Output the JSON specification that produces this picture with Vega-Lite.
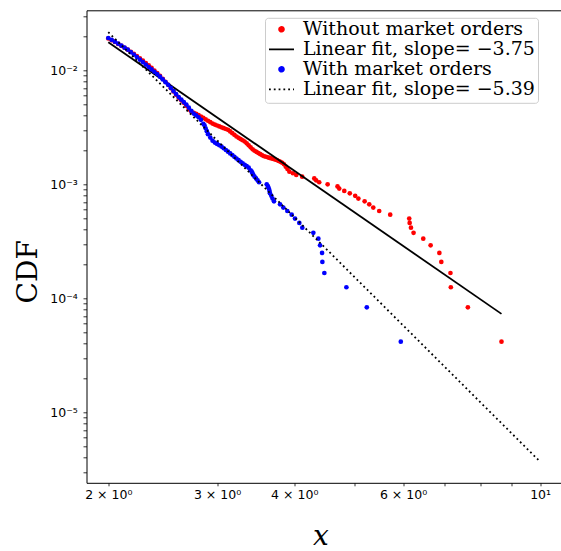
{
  "$schema": "https://vega.github.io/schema/vega-lite/v6.json",
  "width": 475,
  "height": 472.5,
  "autosize": {"type": "none"},
  "padding": {"left": 86.5, "top": 10.3, "right": 0, "bottom": 68.2},
  "background": "white",
  "config": {
    "view": {"stroke": "black", "strokeWidth": 1},
    "font": "DejaVu Sans",
    "legend": {"labelFont": "DejaVu Serif"}
  },
  "data": {
    "values": [
      {"s": "without", "x": 2.000, "y": 0.019010},
      {"s": "without", "x": 2.025, "y": 0.018354},
      {"s": "without", "x": 2.050, "y": 0.017727},
      {"s": "without", "x": 2.075, "y": 0.017042},
      {"s": "without", "x": 2.100, "y": 0.016388},
      {"s": "without", "x": 2.125, "y": 0.015770},
      {"s": "without", "x": 2.150, "y": 0.015177},
      {"s": "without", "x": 2.175, "y": 0.014546},
      {"s": "without", "x": 2.200, "y": 0.013931},
      {"s": "without", "x": 2.225, "y": 0.013347},
      {"s": "without", "x": 2.250, "y": 0.012751},
      {"s": "without", "x": 2.275, "y": 0.012155},
      {"s": "without", "x": 2.300, "y": 0.011592},
      {"s": "without", "x": 2.325, "y": 0.011052},
      {"s": "without", "x": 2.350, "y": 0.010491},
      {"s": "without", "x": 2.375, "y": 0.009964},
      {"s": "without", "x": 2.400, "y": 0.009467},
      {"s": "without", "x": 2.425, "y": 0.008940},
      {"s": "without", "x": 2.450, "y": 0.008411},
      {"s": "without", "x": 2.475, "y": 0.007916},
      {"s": "without", "x": 2.500, "y": 0.007455},
      {"s": "without", "x": 2.525, "y": 0.006973},
      {"s": "without", "x": 2.550, "y": 0.006524},
      {"s": "without", "x": 2.575, "y": 0.006106},
      {"s": "without", "x": 2.600, "y": 0.005732},
      {"s": "without", "x": 2.625, "y": 0.005451},
      {"s": "without", "x": 2.650, "y": 0.005185},
      {"s": "without", "x": 2.675, "y": 0.004881},
      {"s": "without", "x": 2.700, "y": 0.004548},
      {"s": "without", "x": 2.725, "y": 0.004342},
      {"s": "without", "x": 2.750, "y": 0.004240},
      {"s": "without", "x": 2.775, "y": 0.004141},
      {"s": "without", "x": 2.800, "y": 0.004042},
      {"s": "without", "x": 2.825, "y": 0.003929},
      {"s": "without", "x": 2.850, "y": 0.003818},
      {"s": "without", "x": 2.875, "y": 0.003712},
      {"s": "without", "x": 2.900, "y": 0.003609},
      {"s": "without", "x": 2.925, "y": 0.003508},
      {"s": "without", "x": 2.950, "y": 0.003411},
      {"s": "without", "x": 2.975, "y": 0.003339},
      {"s": "without", "x": 3.000, "y": 0.003278},
      {"s": "without", "x": 3.025, "y": 0.003220},
      {"s": "without", "x": 3.050, "y": 0.003163},
      {"s": "without", "x": 3.075, "y": 0.003108},
      {"s": "without", "x": 3.100, "y": 0.003054},
      {"s": "without", "x": 3.125, "y": 0.003002},
      {"s": "without", "x": 3.150, "y": 0.002907},
      {"s": "without", "x": 3.175, "y": 0.002810},
      {"s": "without", "x": 3.200, "y": 0.002716},
      {"s": "without", "x": 3.225, "y": 0.002626},
      {"s": "without", "x": 3.250, "y": 0.002558},
      {"s": "without", "x": 3.275, "y": 0.002495},
      {"s": "without", "x": 3.300, "y": 0.002434},
      {"s": "without", "x": 3.325, "y": 0.002375},
      {"s": "without", "x": 3.350, "y": 0.002287},
      {"s": "without", "x": 3.375, "y": 0.002197},
      {"s": "without", "x": 3.400, "y": 0.002111},
      {"s": "without", "x": 3.425, "y": 0.002028},
      {"s": "without", "x": 3.450, "y": 0.001970},
      {"s": "without", "x": 3.475, "y": 0.001924},
      {"s": "without", "x": 3.500, "y": 0.001880},
      {"s": "without", "x": 3.525, "y": 0.001837},
      {"s": "without", "x": 3.550, "y": 0.001795},
      {"s": "without", "x": 3.575, "y": 0.001763},
      {"s": "without", "x": 3.600, "y": 0.001744},
      {"s": "without", "x": 3.625, "y": 0.001724},
      {"s": "without", "x": 3.650, "y": 0.001705},
      {"s": "without", "x": 3.675, "y": 0.001686},
      {"s": "without", "x": 3.700, "y": 0.001667},
      {"s": "without", "x": 3.725, "y": 0.001649},
      {"s": "without", "x": 3.750, "y": 0.001630},
      {"s": "without", "x": 3.775, "y": 0.001601},
      {"s": "without", "x": 3.800, "y": 0.001573},
      {"s": "without", "x": 3.825, "y": 0.001545},
      {"s": "without", "x": 3.850, "y": 0.001500},
      {"s": "without", "x": 3.875, "y": 0.001428},
      {"s": "without", "x": 3.900, "y": 0.001361},
      {"s": "without", "x": 3.928, "y": 0.0012917},
      {"s": "without", "x": 3.98, "y": 0.00125},
      {"s": "without", "x": 4.03, "y": 0.0012083},
      {"s": "without", "x": 4.12, "y": 0.0011667},
      {"s": "without", "x": 4.31, "y": 0.001125},
      {"s": "without", "x": 4.34, "y": 0.0010833},
      {"s": "without", "x": 4.39, "y": 0.0010417},
      {"s": "without", "x": 4.53, "y": 0.001},
      {"s": "without", "x": 4.70, "y": 0.00095833},
      {"s": "without", "x": 4.73, "y": 0.00091667},
      {"s": "without", "x": 4.82, "y": 0.000875},
      {"s": "without", "x": 4.92, "y": 0.00083333},
      {"s": "without", "x": 5.02, "y": 0.00079167},
      {"s": "without", "x": 5.08, "y": 0.00075},
      {"s": "without", "x": 5.20, "y": 0.00070833},
      {"s": "without", "x": 5.29, "y": 0.00066667},
      {"s": "without", "x": 5.37, "y": 0.000625},
      {"s": "without", "x": 5.49, "y": 0.00058333},
      {"s": "without", "x": 5.72, "y": 0.00054167},
      {"s": "without", "x": 6.14, "y": 0.0005},
      {"s": "without", "x": 6.15, "y": 0.00045833},
      {"s": "without", "x": 6.18, "y": 0.00041667},
      {"s": "without", "x": 6.24, "y": 0.000375},
      {"s": "without", "x": 6.47, "y": 0.00033333},
      {"s": "without", "x": 6.65, "y": 0.00029167},
      {"s": "without", "x": 6.87, "y": 0.00025},
      {"s": "without", "x": 6.92, "y": 0.00020833},
      {"s": "without", "x": 7.16, "y": 0.00016667},
      {"s": "without", "x": 7.17, "y": 0.000125},
      {"s": "without", "x": 7.64, "y": 0.000083333},
      {"s": "without", "x": 8.66, "y": 0.000041667},
      {"s": "fit_without", "x": 2.0, "y": 0.0176},
      {"s": "fit_without", "x": 8.66, "y": 0.000073},
      {"s": "with", "x": 2.000, "y": 0.019203},
      {"s": "with", "x": 2.025, "y": 0.018503},
      {"s": "with", "x": 2.050, "y": 0.017839},
      {"s": "with", "x": 2.075, "y": 0.017122},
      {"s": "with", "x": 2.100, "y": 0.016441},
      {"s": "with", "x": 2.125, "y": 0.015796},
      {"s": "with", "x": 2.150, "y": 0.015183},
      {"s": "with", "x": 2.175, "y": 0.014450},
      {"s": "with", "x": 2.200, "y": 0.013730},
      {"s": "with", "x": 2.225, "y": 0.013049},
      {"s": "with", "x": 2.250, "y": 0.012404},
      {"s": "with", "x": 2.275, "y": 0.011797},
      {"s": "with", "x": 2.300, "y": 0.011223},
      {"s": "with", "x": 2.325, "y": 0.010686},
      {"s": "with", "x": 2.350, "y": 0.010184},
      {"s": "with", "x": 2.375, "y": 0.009712},
      {"s": "with", "x": 2.400, "y": 0.009264},
      {"s": "with", "x": 2.425, "y": 0.008792},
      {"s": "with", "x": 2.450, "y": 0.008316},
      {"s": "with", "x": 2.475, "y": 0.007872},
      {"s": "with", "x": 2.500, "y": 0.007454},
      {"s": "with", "x": 2.525, "y": 0.007002},
      {"s": "with", "x": 2.550, "y": 0.006578},
      {"s": "with", "x": 2.575, "y": 0.006184},
      {"s": "with", "x": 2.600, "y": 0.005824},
      {"s": "with", "x": 2.625, "y": 0.005534},
      {"s": "with", "x": 2.650, "y": 0.005260},
      {"s": "with", "x": 2.675, "y": 0.005002},
      {"s": "with", "x": 2.700, "y": 0.004705},
      {"s": "with", "x": 2.725, "y": 0.004418},
      {"s": "with", "x": 2.750, "y": 0.004170},
      {"s": "with", "x": 2.775, "y": 0.004020},
      {"s": "with", "x": 2.800, "y": 0.003876},
      {"s": "with", "x": 2.825, "y": 0.003675},
      {"s": "with", "x": 2.850, "y": 0.003391},
      {"s": "with", "x": 2.8625, "y": 0.003289},
      {"s": "with", "x": 2.875, "y": 0.003099},
      {"s": "with", "x": 2.8875, "y": 0.002923},
      {"s": "with", "x": 2.900, "y": 0.002755},
      {"s": "with", "x": 2.925, "y": 0.002567},
      {"s": "with", "x": 2.950, "y": 0.002413},
      {"s": "with", "x": 2.975, "y": 0.002322},
      {"s": "with", "x": 3.000, "y": 0.002260},
      {"s": "with", "x": 3.025, "y": 0.002200},
      {"s": "with", "x": 3.050, "y": 0.002143},
      {"s": "with", "x": 3.075, "y": 0.002071},
      {"s": "with", "x": 3.100, "y": 0.002000},
      {"s": "with", "x": 3.125, "y": 0.001932},
      {"s": "with", "x": 3.150, "y": 0.001867},
      {"s": "with", "x": 3.175, "y": 0.001803},
      {"s": "with", "x": 3.200, "y": 0.001743},
      {"s": "with", "x": 3.225, "y": 0.001684},
      {"s": "with", "x": 3.250, "y": 0.001628},
      {"s": "with", "x": 3.275, "y": 0.001575},
      {"s": "with", "x": 3.300, "y": 0.001524},
      {"s": "with", "x": 3.325, "y": 0.001481},
      {"s": "with", "x": 3.350, "y": 0.001441},
      {"s": "with", "x": 3.375, "y": 0.001398},
      {"s": "with", "x": 3.400, "y": 0.001327},
      {"s": "with", "x": 3.414, "y": 0.0012917},
      {"s": "with", "x": 3.424, "y": 0.00125},
      {"s": "with", "x": 3.434, "y": 0.0012083},
      {"s": "with", "x": 3.450, "y": 0.0011667},
      {"s": "with", "x": 3.469, "y": 0.001125},
      {"s": "with", "x": 3.489, "y": 0.0010833},
      {"s": "with", "x": 3.508, "y": 0.0010417},
      {"s": "with", "x": 3.610, "y": 0.001},
      {"s": "with", "x": 3.627, "y": 0.00095833},
      {"s": "with", "x": 3.638, "y": 0.00091667},
      {"s": "with", "x": 3.648, "y": 0.000875},
      {"s": "with", "x": 3.654, "y": 0.00083333},
      {"s": "with", "x": 3.672, "y": 0.00079167},
      {"s": "with", "x": 3.689, "y": 0.00075},
      {"s": "with", "x": 3.709, "y": 0.00070833},
      {"s": "with", "x": 3.794, "y": 0.00066667},
      {"s": "with", "x": 3.840, "y": 0.000625},
      {"s": "with", "x": 3.898, "y": 0.00058333},
      {"s": "with", "x": 3.962, "y": 0.00054167},
      {"s": "with", "x": 4.011, "y": 0.0005},
      {"s": "with", "x": 4.076, "y": 0.00045833},
      {"s": "with", "x": 4.122, "y": 0.00041667},
      {"s": "with", "x": 4.295, "y": 0.000375},
      {"s": "with", "x": 4.376, "y": 0.00033333},
      {"s": "with", "x": 4.404, "y": 0.00029167},
      {"s": "with", "x": 4.437, "y": 0.00025},
      {"s": "with", "x": 4.442, "y": 0.00020833},
      {"s": "with", "x": 4.475, "y": 0.00016667},
      {"s": "with", "x": 4.858, "y": 0.000125},
      {"s": "with", "x": 5.242, "y": 0.000083333},
      {"s": "with", "x": 5.950, "y": 0.000041667},
      {"s": "fit_with", "x": 2.0, "y": 0.0216},
      {"s": "fit_with", "x": 10.0, "y": 0.00000369}
    ]
  },
  "encoding": {
    "x": {
      "field": "x",
      "type": "quantitative",
      "scale": {"type": "log", "domain": [1.844, 10.831], "nice": false},
      "axis": {
        "orient": "bottom",
        "values": [2, 3, 4, 5, 6, 7, 8, 9, 10],
        "labelExpr": "datum.value==2?'2 × 10⁰':datum.value==3?'3 × 10⁰':datum.value==4?'4 × 10⁰':datum.value==6?'6 × 10⁰':datum.value==10?'10¹':''",
        "tickSize": 3,
        "tickColor": "black",
        "tickWidth": 0.8,
        "domain": false,
        "grid": false,
        "labelFont": "DejaVu Sans",
        "labelFontSize": 12.5,
        "labelColor": "black",
        "labelPadding": 3,
        "labelOverlap": false,
        "labelFlush": false,
        "labelBound": false,
        "title": "x",
        "titleFont": "DejaVu Serif",
        "titleFontStyle": "italic",
        "titleFontWeight": "normal",
        "titleFontSize": 28,
        "titleColor": "black",
        "titleX": 234,
        "titleY": 61.5,
        "titleAlign": "center",
        "titleBaseline": "alphabetic"
      }
    },
    "y": {
      "field": "y",
      "type": "quantitative",
      "scale": {"type": "log", "domain": [0.0000024074, 0.033598], "nice": false},
      "axis": {
        "orient": "left",
        "values": [3e-6, 4e-6, 5e-6, 6e-6, 7e-6, 8e-6, 9e-6, 1e-5, 2e-5, 3e-5, 4e-5, 5e-5, 6e-5, 7e-5, 8e-5, 9e-5, 1e-4, 2e-4, 3e-4, 4e-4, 5e-4, 6e-4, 7e-4, 8e-4, 9e-4, 1e-3, 2e-3, 3e-3, 4e-3, 5e-3, 6e-3, 7e-3, 8e-3, 9e-3, 1e-2, 2e-2, 3e-2],
        "labelExpr": "datum.value==0.01?'10⁻²':datum.value==0.001?'10⁻³':datum.value==0.0001?'10⁻⁴':datum.value==0.00001?'10⁻⁵':''",
        "tickSize": 3.5,
        "tickColor": "black",
        "tickWidth": 0.8,
        "domain": false,
        "grid": false,
        "labelFont": "DejaVu Sans",
        "labelFontSize": 12.5,
        "labelColor": "black",
        "labelPadding": 5.7,
        "labelOverlap": false,
        "labelFlush": false,
        "labelBound": false,
        "title": "CDF",
        "titleFont": "DejaVu Serif",
        "titleFontWeight": "normal",
        "titleFontSize": 28,
        "titleColor": "black",
        "titleX": -49.8,
        "titleY": 261,
        "titleAngle": -90,
        "titleAlign": "center",
        "titleBaseline": "alphabetic"
      }
    },
    "color": {
      "field": "s",
      "type": "nominal",
      "scale": {
        "domain": ["without", "fit_without", "with", "fit_with"],
        "range": ["#ff0000", "#000000", "#0000ff", "#000000"]
      },
      "legend": {
        "orient": "none",
        "legendX": 178.5,
        "legendY": 7.5,
        "title": null,
        "labelExpr": "datum.value=='without'?'Without market orders':datum.value=='fit_without'?'Linear fit, slope= −3.75':datum.value=='with'?'With market orders':'Linear fit, slope= −5.39'",
        "labelFont": "DejaVu Serif",
        "labelFontSize": 19,
        "labelColor": "black",
        "labelLimit": 500,
        "labelOffset": 8,
        "symbolSize": 625,
        "symbolStrokeWidth": 1.8,
        "clipHeight": 17,
        "padding": 3,
        "rowPadding": 0,
        "strokeColor": "#cccccc",
        "fillColor": "rgba(255,255,255,0.8)",
        "cornerRadius": 3,
        "encode": {
          "symbols": {
            "update": {
              "shape": {"signal": "indexof(datum.value,'fit')==0 ? 'stroke' : 'M-0.19,0A0.19,0.19,0,1,0,0.19,0A0.19,0.19,0,1,0,-0.19,0Z'"},
              "fill": {"signal": "datum.value=='without' ? '#ff0000' : datum.value=='with' ? '#0000ff' : 'transparent'"},
              "stroke": {"signal": "indexof(datum.value,'fit')==0 ? '#000000' : 'transparent'"},
              "strokeDash": {"signal": "datum.value=='fit_with' ? [1.8, 3] : [1, 0]"}
            }
          }
        }
      }
    }
  },
  "layer": [
    {
      "transform": [{"filter": "datum.s=='without'"}],
      "mark": {"type": "point", "shape": "circle", "filled": true, "size": 22, "opacity": 1}
    },
    {
      "transform": [{"filter": "datum.s=='fit_without'"}],
      "mark": {"type": "line", "strokeWidth": 1.8}
    },
    {
      "transform": [{"filter": "datum.s=='with'"}],
      "mark": {"type": "point", "shape": "circle", "filled": true, "size": 22, "opacity": 1}
    },
    {
      "transform": [{"filter": "datum.s=='fit_with'"}],
      "mark": {"type": "line", "strokeWidth": 1.8, "strokeDash": [1.8, 3]}
    }
  ]
}
